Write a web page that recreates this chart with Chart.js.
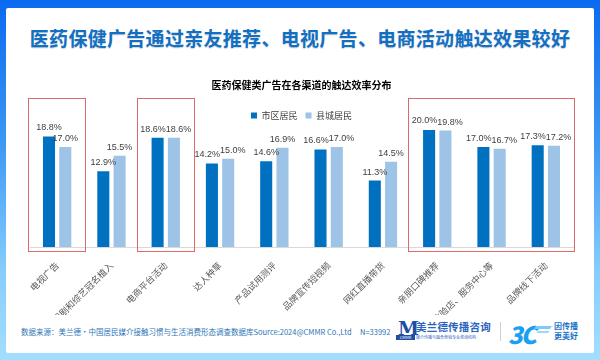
<!DOCTYPE html>
<html>
<head>
<meta charset="utf-8">
<script src="https://cdn.jsdelivr.net/npm/chart.js@4.4.1/dist/chart.umd.min.js"></script>
<style>
  html, body { margin: 0; padding: 0; }
  body {
    width: 600px; height: 360px; position: relative; overflow: hidden;
    background: linear-gradient(to bottom, #0a6af0 0%, #3d98f5 40%, #86cdfd 75%, #a3defe 100%);
    font-family: "Noto Sans CJK SC", "Noto Sans", sans-serif;
  }
  #panel {
    position: absolute; left: 6px; top: 8px; width: 588px; height: 345px;
    background: #fff; border-radius: 2px;
  }
  #titre {
    position: absolute; left: 0; top: 25px; width: 600px; text-align: center;
    font-size: 19px; font-weight: 700; color: #1170c4; letter-spacing: 0.3px;
    text-shadow: 0 1px 1px rgba(0, 0, 0, 0.18); line-height: 26px;
  }
  #wrap { position: absolute; left: 0; top: 60px; width: 600px; height: 255px; }
  #source {
    position: absolute; left: 21px; top: 326px; font-size: 7.5px; color: #2e75b6;
    white-space: nowrap; line-height: 12px;
  }
  .logo { position: absolute; white-space: nowrap; }
</style>
</head>
<body>
<div id="panel"></div>
<div id="titre">医药保健广告通过亲友推荐、电视广告、电商活动触达效果较好</div>
<div id="wrap"><canvas id="chart" width="600" height="255"></canvas></div>
<div id="source">数据来源：美兰德•中国居民媒介接触习惯与生活消费形态调查数据库Source:2024@CMMR Co.,Ltd&nbsp;&nbsp;&nbsp;&nbsp;&nbsp;N=33992</div>

<!-- logos -->
<div class="logo" style="left:398px;top:317px;font-family:'DejaVu Serif',serif;font-weight:700;font-size:19px;color:#1d4ea6;">M</div>
<div class="logo" style="left:396px;top:335px;width:19px;height:5px;background:#1d4ea6;color:#fff;font-size:4px;line-height:5px;text-align:center;">CMMR</div>
<div class="logo" style="left:416px;top:319px;font-size:10.5px;font-weight:700;color:#2a62bd;letter-spacing:0.2px;">美兰德传播咨询</div>
<div class="logo" style="left:416px;top:335px;font-size:4px;color:#2a62bd;line-height:5px;">媒介传播与融合营销专业咨询机构</div>
<div class="logo" style="left:500px;top:322px;width:1px;height:19px;background:#d0d0d0;"></div>
<div class="logo" style="left:508px;top:316px;font-size:24px;font-weight:900;font-style:italic;color:#1aa0f0;letter-spacing:-2px;">3C</div>
<div class="logo" style="left:535px;top:326px;width:16px;height:3px;background:#7fcaf8;transform:skewX(-30deg);"></div>
<div class="logo" style="left:537px;top:331px;width:12px;height:2px;background:#9fd8fa;transform:skewX(-30deg);"></div>
<div class="logo" style="left:554px;top:321px;font-size:8px;font-weight:700;color:#1a73c8;line-height:10px;">因传播<br>更美好</div>

<script>
// 数据
const categories = ['电视广告', '影视剧和综艺冠名植入', '电商平台活动', '达人种草', '产品试用测评',
                    '品牌宣传短视频', '网红直播带货', '亲朋口碑推荐', '品牌体验店、服务中心等', '品牌线下活动'];
const shiqu = [18.8, 12.9, 18.6, 14.2, 14.6, 16.6, 11.3, 20.0, 17.0, 17.3];
const xiancheng = [17.0, 15.5, 18.6, 15.0, 16.9, 17.0, 14.5, 19.8, 16.7, 17.2];
// 红框：起止类别
const highlights = [[0, 0], [2, 2], [7, 9]];

// 柱顶数值标签（两个标签高度接近时左右错开）
const valueLabels = {
  id: 'valueLabels',
  afterDatasetsDraw(chart) {
    const ctx = chart.ctx;
    ctx.save();
    ctx.font = '9px "Liberation Sans", Arial, sans-serif';
    ctx.fillStyle = '#404040';
    ctx.textAlign = 'center';
    ctx.textBaseline = 'bottom';
    const m0 = chart.getDatasetMeta(0).data, m1 = chart.getDatasetMeta(1).data;
    const d0 = chart.data.datasets[0].data, d1 = chart.data.datasets[1].data;
    m0.forEach((b0, j) => {
      const b1 = m1[j];
      const t0 = d0[j].toFixed(1) + '%', t1 = d1[j].toFixed(1) + '%';
      const w0 = ctx.measureText(t0).width, w1 = ctx.measureText(t1).width;
      let x0 = b0.x, x1 = b1.x;
      if (Math.abs(b0.y - b1.y) < 10) {
        const over = (x0 + w0 / 2) - (x1 - w1 / 2);
        if (over > 0) { x0 -= over / 2; x1 += over / 2; }
      }
      ctx.fillText(t0, x0, b0.y - 4);
      ctx.fillText(t1, x1, b1.y - 4);
    });
    ctx.restore();
  }
};

// 红色框
const redBoxes = {
  id: 'redBoxes',
  afterDraw(chart) {
    const ctx = chart.ctx;
    const x = chart.scales.x, y = chart.scales.y;
    const half = (x.getPixelForValue(1) - x.getPixelForValue(0)) / 2;
    const top = y.getPixelForValue(25.3);
    const bottom = y.getPixelForValue(0) + 4;
    ctx.save();
    ctx.strokeStyle = '#dc6a6a';
    ctx.lineWidth = 1;
    highlights.forEach(h => {
      const l = Math.round(x.getPixelForValue(h[0]) - half) - 1.5;
      const r = Math.round(x.getPixelForValue(h[1]) + half) + 1.5;
      ctx.strokeRect(l, Math.round(top) + 0.5, r - l, Math.round(bottom - top));
    });
    ctx.restore();
  }
};

new Chart(document.getElementById('chart'), {
  type: 'bar',
  data: {
    labels: categories,
    datasets: [
      { label: '市区居民', data: shiqu, backgroundColor: '#0070c0', barPercentage: 0.74, categoryPercentage: 0.6 },
      { label: '县城居民', data: xiancheng, backgroundColor: '#9dc3e6', barPercentage: 0.74, categoryPercentage: 0.6 }
    ]
  },
  options: {
    responsive: false,
    animation: false,
    layout: { padding: { left: 30, right: 27, top: 0, bottom: 0 } },
    plugins: {
      title: {
        display: true,
        text: '医药保健类广告在各渠道的触达效率分布',
        color: '#000',
        font: { size: 10, weight: 'bold', family: '"Noto Sans CJK SC", sans-serif' },
        padding: { top: 19, bottom: 12 }
      },
      legend: {
        labels: {
          boxWidth: 6, boxHeight: 6, padding: 8, color: '#404040',
          font: { size: 9, family: '"Noto Sans CJK SC", sans-serif' }
        }
      },
      tooltip: { enabled: false }
    },
    scales: {
      x: {
        grid: { display: false, drawTicks: false },
        border: { display: true, color: '#d9d9d9' },
        ticks: {
          autoSkip: false, maxRotation: 45, minRotation: 45, padding: 13,
          color: '#595959', font: { size: 9, family: '"Noto Sans CJK SC", sans-serif' }
        },
        afterFit(scale) { scale.height = 68; }
      },
      y: { display: false, min: 0, max: 19.9 }
    }
  },
  plugins: [valueLabels, redBoxes]
});
</script>
</body>
</html>
